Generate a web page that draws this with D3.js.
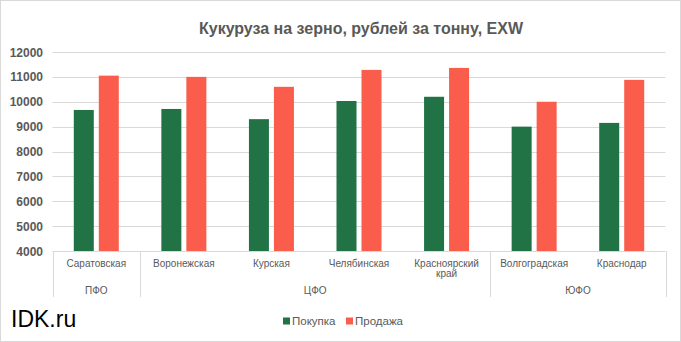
<!DOCTYPE html>
<html><head><meta charset="utf-8">
<script src="https://cdn.jsdelivr.net/npm/d3@7"></script>
<style>body{margin:0;background:#fff}svg{display:block}</style>
</head><body>
<script>
const categories = ["Саратовская","Воронежская","Курская","Челябинская","Красноярский край","Волгоградская","Краснодар"];
const groups = [{name:"ПФО", from:0, to:0},{name:"ЦФО", from:1, to:4},{name:"ЮФО", from:5, to:6}];
const seriesNames = ["Покупка","Продажа"];
const buy = [9670, 9710, 9300, 10030, 10200, 9000, 9150];
const sell = [11050, 11000, 10600, 11280, 11360, 10000, 10880];
const yTicks = [4000,5000,6000,7000,8000,9000,10000,11000,12000];
const colors = ["#217346","#FA5D4B"];

const W=681,H=342;
const svg=d3.select("body").append("svg").attr("width",W).attr("height",H);
svg.append("rect").attr("x",0.5).attr("y",0.5).attr("width",W-1).attr("height",H-1).attr("fill","#fff").attr("stroke","#d9d9d9");

const font2="'Liberation Sans',Arial,sans-serif";
const L=52.5,R=665.5,T=52,B=251;
const y=d3.scaleLinear().domain([4000,12000]).range([B,T]);
const x0=d3.scaleBand().domain(categories).range([L,R]);
const x1=d3.scaleBand().domain(seriesNames).range([0,45]).paddingInner(0.2);
const off=(x0.bandwidth()-45)/2;

svg.append("text").attr("x",361).attr("y",33.5).attr("text-anchor","middle")
 .attr("font-family",font2).attr("font-weight","bold").attr("font-size",16).attr("fill","#595959")
 .attr("textLength",324).attr("lengthAdjust","spacingAndGlyphs")
 .text("Кукуруза на зерно, рублей за тонну, EXW");

// grid
svg.append("g").selectAll("line").data(yTicks).join("line")
 .attr("x1",L).attr("x2",R).attr("y1",d=>Math.round(y(d))+0.5).attr("y2",d=>Math.round(y(d))+0.5)
 .attr("stroke","#d9d9d9").attr("stroke-width",1);
svg.append("g").selectAll("text").data(yTicks).join("text")
 .attr("x",43).attr("y",d=>y(d)+4.5).attr("text-anchor","end")
 .attr("font-family",font2).attr("font-weight","bold").attr("font-size",12).attr("fill","#595959")
 .text(d=>d);

// bars
const data=categories.map((c,i)=>({c,vals:[buy[i],sell[i]]}));
const g=svg.append("g");
data.forEach(d=>{
  d.vals.forEach((v,j)=>{
    g.append("rect").attr("x",x0(d.c)+off+x1(seriesNames[j])).attr("width",x1.bandwidth())
     .attr("y",y(v)).attr("height",y(4000)-y(v)).attr("fill",colors[j]);
  });
});

// category axis lines
const seps=[L].concat(groups.map(gr=>x0(categories[gr.to])+x0.bandwidth()));
svg.append("g").selectAll("line").data(seps).join("line")
 .attr("x1",d=>Math.round(d)+0.5).attr("x2",d=>Math.round(d)+0.5).attr("y1",B).attr("y2",297)
 .attr("stroke","#d9d9d9");

// category labels
categories.forEach(c=>{
  const words=c==="Красноярский край"?["Красноярский","край"]:[c];
  words.forEach((w,k)=>{
    svg.append("text").attr("x",x0(c)+x0.bandwidth()/2).attr("y",266.5+k*10.5).attr("text-anchor","middle")
     .attr("font-family",font2).attr("font-size",10).attr("fill","#595959").text(w);
  });
});
groups.forEach(gr=>{
  const a=x0(categories[gr.from]), b=x0(categories[gr.to])+x0.bandwidth();
  svg.append("text").attr("x",(a+b)/2).attr("y",294).attr("text-anchor","middle")
   .attr("font-family",font2).attr("font-size",10).attr("fill","#595959").text(gr.name);
});

// legend
const leg=[{n:seriesNames[0],x:283},{n:seriesNames[1],x:346}];
leg.forEach((l,i)=>{
  svg.append("rect").attr("x",l.x).attr("y",317.5).attr("width",7).attr("height",7).attr("fill",colors[i]);
  svg.append("text").attr("x",l.x+9).attr("y",325).attr("font-family",font2).attr("font-size",11.5).attr("fill","#595959").text(l.n);
});

svg.append("text").attr("x",11).attr("y",327).attr("font-family",font2).attr("font-size",23).attr("fill","#000").text("IDK.ru");
</script>
</body></html>
